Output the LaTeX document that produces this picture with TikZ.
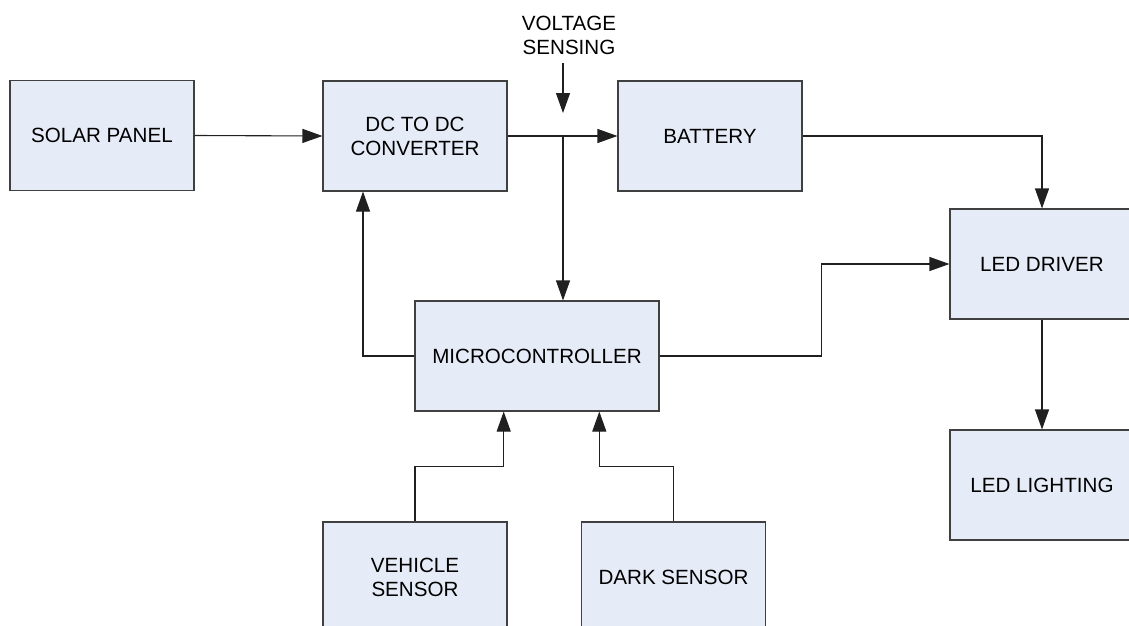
\documentclass[tikz,border=0pt]{standalone}
\usepackage{fontspec}
\setmainfont{Liberation Sans}
\usetikzlibrary{arrows.meta}
\definecolor{boxfill}{HTML}{E6ECF7}
\definecolor{boxline}{HTML}{404040}
\definecolor{wire}{HTML}{202020}
\tikzset{
  blk/.style={draw=boxline, fill=boxfill, line width=1.1pt, rectangle,
    minimum width=184pt, minimum height=110pt, inner sep=0pt,
    align=center, font=\fontsize{20.6}{24}\selectfont},
  conn/.style={draw=wire, line width=1.1pt},
  arr/.style={conn, -{Triangle[length=20pt,width=14pt]}},
  lbl/.style={align=center, inner sep=0pt, font=\fontsize{20.6}{24}\selectfont}
}
\begin{document}
\begin{tikzpicture}[x=1pt,y=-1pt]
\useasboundingbox (0,0) rectangle (1129,626);
\begin{scope}
\clip (0,0) rectangle (1129,626);
\node[blk] (solar) at (102,135.5) {SOLAR PANEL};
\node[blk] (dc) at (415,136) {DC TO DC\\CONVERTER};
\node[blk] (bat) at (710,136) {BATTERY};
\node[blk] (drv) at (1042,264) {LED DRIVER};
\node[blk] (light) at (1042,485) {LED LIGHTING};
\node[blk, minimum width=244pt] (mcu) at (537,356) {MICROCONTROLLER};
\node[blk] (veh) at (415,577) {VEHICLE\\SENSOR};
\node[blk] (dark) at (673.5,577) {DARK SENSOR};
\end{scope}
\node[lbl] (vs) at (569,35) {VOLTAGE\\SENSING};
\coordinate (vstop) at (563,63);
\coordinate (vstip) at (563,113);
\coordinate (j) at (563,136);
\draw[arr] (vstop) -- (vstip);
\draw[arr] (solar.east) -- (dc.west);
\draw[arr] (dc.east) -- (bat.west);
\draw[arr] (j) -- (j |- mcu.north);
\draw[arr] (mcu.west) -| ([xshift=-52pt]dc.south);
\draw[arr] (mcu.east) -- ++(162,0) |- (drv.west);
\draw[arr] (bat.east) -| (drv.north);
\draw[arr] (drv.south) -- (light.north);
\draw[arr] (veh.north) -- ++(0,-55.3) -| ([xshift=-33.3pt]mcu.south);
\draw[arr] (dark.north) -- ++(0,-55.3) -| ([xshift=62.3pt]mcu.south);
\end{tikzpicture}
\end{document}
